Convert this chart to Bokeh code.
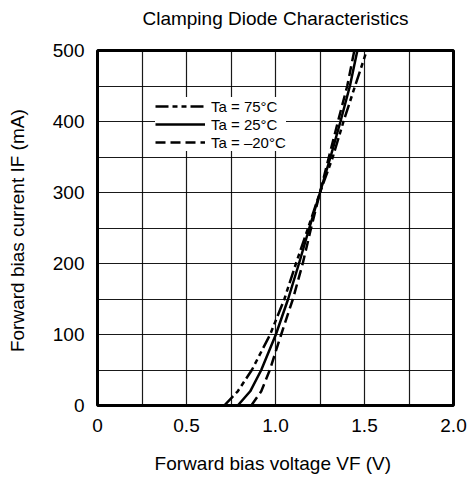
from bokeh.plotting import figure
from bokeh.models import Range1d, FixedTicker, Legend, LegendItem, Title
from bokeh.embed import file_html
from bokeh.resources import INLINE

# Data
current_ma = [0, 20, 50, 100, 150, 200, 250, 300, 350, 400, 450, 500]
vf_75c = [0.712, 0.788, 0.867, 0.970, 1.050, 1.115, 1.183, 1.250, 1.322, 1.382, 1.447, 1.513]
vf_25c = [0.788, 0.858, 0.920, 1.002, 1.071, 1.132, 1.190, 1.250, 1.309, 1.365, 1.418, 1.460]
vf_m20c = [0.864, 0.920, 0.968, 1.032, 1.098, 1.153, 1.200, 1.250, 1.300, 1.351, 1.403, 1.443]

x_major = [0, 0.5, 1.0, 1.5, 2.0]
x_minor = [0.25, 0.75, 1.25, 1.75]
x_labels = ["0", "0.5", "1.0", "1.5", "2.0"]
y_major = [0, 100, 200, 300, 400, 500]
y_minor = [50, 150, 250, 350, 450]
y_labels = ["0", "100", "200", "300", "400", "500"]

series_labels = ["Ta = 75°C", "Ta = 25°C", "Ta = –20°C"]
title_text = "Clamping Diode Characteristics"
x_title = "Forward bias voltage  VF (V)"
y_title = "Forward bias current  IF (mA)"

FONT = "Liberation Sans"

p = figure(width=468, height=490, output_backend="svg", toolbar_location=None,
           title=None,
           x_range=Range1d(0, 2.0), y_range=Range1d(0, 500),
           min_border_left=97, min_border_right=15, min_border_top=50,
           min_border_bottom=85)
p.background_fill_color = "white"
p.border_fill_color = "white"
p.outline_line_color = "black"
p.outline_line_width = 3

# spacer between frame and title, then the title itself
spacer = Title(text=" ", text_font=FONT, text_font_size="10px", standoff=7)
main_title = Title(text=title_text, text_font=FONT, text_font_size="19px",
                   text_font_style="normal", text_color="black",
                   align="center", vertical_align="top", standoff=0)
p.add_layout(spacer, "above")
p.add_layout(main_title, "above")

p.xaxis.ticker = FixedTicker(ticks=x_major, minor_ticks=x_minor)
p.yaxis.ticker = FixedTicker(ticks=y_major, minor_ticks=y_minor)
p.xaxis.major_label_overrides = {t: l for t, l in zip(x_major, x_labels)}
p.yaxis.major_label_overrides = {t: l for t, l in zip(y_major, y_labels)}
p.xaxis.axis_label = x_title
p.yaxis.axis_label = y_title
p.xaxis.axis_label_standoff = 18
p.yaxis.axis_label_standoff = 22
for ax in (p.xaxis, p.yaxis):
    ax.axis_line_color = None
    ax.major_tick_line_color = None
    ax.minor_tick_line_color = None
    ax.major_label_text_font = FONT
    ax.major_label_text_font_size = "19px"
    ax.major_label_text_color = "black"
    ax.major_label_standoff = 7
    ax.axis_label_text_font = FONT
    ax.axis_label_text_font_size = "19px"
    ax.axis_label_text_font_style = "normal"
    ax.axis_label_text_color = "black"

for g in (p.xgrid, p.ygrid):
    g.grid_line_color = "black"
    g.grid_line_width = 1.2
    g.grid_line_alpha = 0.9
    g.minor_grid_line_color = "black"
    g.minor_grid_line_width = 1.2
    g.minor_grid_line_alpha = 0.9

r75 = p.line(vf_75c, current_ma, line_color="black", line_width=2.5, line_dash="13 4 5 4 5 4")
r25 = p.line(vf_25c, current_ma, line_color="black", line_width=2.5)
rm20 = p.line(vf_m20c, current_ma, line_color="black", line_width=2.5, line_dash="10 5")

legend = Legend(items=[LegendItem(label=series_labels[0], renderers=[r75]),
                       LegendItem(label=series_labels[1], renderers=[r25]),
                       LegendItem(label=series_labels[2], renderers=[rm20])],
                location=(58, 254))
legend.glyph_width = 50
legend.glyph_height = 18
legend.label_height = 18
legend.spacing = -2
legend.padding = 5
legend.margin = 0
legend.label_standoff = 6
legend.background_fill_color = "white"
legend.background_fill_alpha = 1.0
legend.border_line_color = None
legend.label_text_font = FONT
legend.label_text_font_size = "15px"
legend.label_text_color = "black"
p.add_layout(legend, "center")

open("out.html", "w").write(file_html(p, INLINE))
